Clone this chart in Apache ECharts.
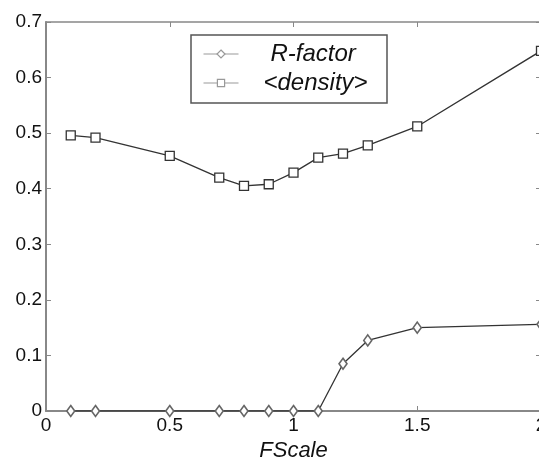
<!DOCTYPE html>
<html>
<head>
<meta charset="utf-8">
<script src="https://cdn.jsdelivr.net/npm/echarts@6/dist/echarts.min.js"></script>
<style>
html,body{margin:0;padding:0;background:#fff;}
#c{width:539px;height:459px;}
</style>
</head>
<body>
<div id="c"></div>
<script>
const fscale = [0.1, 0.2, 0.5, 0.7, 0.8, 0.9, 1.0, 1.1, 1.2, 1.3, 1.5, 2.0];
const rFactor = [0, 0, 0, 0, 0, 0, 0, 0, 0.085, 0.127, 0.150, 0.156];
const density = [0.496, 0.492, 0.459, 0.420, 0.405, 0.408, 0.429, 0.456, 0.463, 0.478, 0.512, 0.648];
const seriesNames = ['R-factor', '<density>'];
const xTitle = 'FScale';

const chart = echarts.init(document.getElementById('c'), null, {renderer: 'canvas'});
const font = '"Liberation Sans", Arial, sans-serif';
const fmt = v => String(+v.toFixed(1));

function axisBase(w) {
  return {
    type: 'value',
    axisLine: {show: true, onZero: false, lineStyle: {color: '#888', width: w}},
    axisTick: {show: true, inside: true, length: 5, lineStyle: {color: '#888', width: 1}},
    splitLine: {show: false}
  };
}

chart.setOption({
  animation: false,
  backgroundColor: '#fff',
  grid: {left: 46, top: 22, width: 495, bottom: 48, containLabel: false, outerBoundsMode: 'none'},
  xAxis: [
    Object.assign(axisBase(2), {
      min: 0, max: 2, interval: 0.5, position: 'bottom',
      name: xTitle, nameLocation: 'middle', nameGap: 25,
      nameTextStyle: {fontFamily: font, fontSize: 22, fontStyle: 'italic', color: '#111'},
      axisLabel: {margin: 5, fontFamily: font, fontSize: 19, color: '#111', formatter: fmt, showMaxLabel: true}
    }),
    Object.assign(axisBase(1.5), {
      min: 0, max: 2, interval: 0.5, position: 'top',
      axisLabel: {show: false}
    })
  ],
  yAxis: [
    Object.assign(axisBase(2), {
      min: 0, max: 0.7, interval: 0.1, position: 'left',
      axisLabel: {margin: 4, fontFamily: font, fontSize: 19, color: '#111', formatter: fmt}
    }),
    Object.assign(axisBase(1.5), {
      min: 0, max: 0.7, interval: 0.1, position: 'right',
      axisLabel: {show: false}
    })
  ],
  legend: [
    {
      data: [seriesNames[0]], left: 203, top: 42, itemWidth: 35, itemHeight: 10,
      selectedMode: false, padding: 0,
      lineStyle: {color: '#999', width: 1},
      itemStyle: {color: '#fff', borderColor: '#999', borderWidth: 1.2},
      textStyle: {fontFamily: font, fontSize: 24, fontStyle: 'italic', color: '#111', padding: [0, 0, 0, 27], lineHeight: 24}
    },
    {
      data: [seriesNames[1]], left: 203, top: 71, itemWidth: 35, itemHeight: 9,
      selectedMode: false, padding: 0,
      lineStyle: {color: '#999', width: 1},
      itemStyle: {color: '#fff', borderColor: '#999', borderWidth: 1.2},
      textStyle: {fontFamily: font, fontSize: 24, fontStyle: 'italic', color: '#111', padding: [0, 0, 0, 20], lineHeight: 24}
    }
  ],
  graphic: [{
    type: 'rect', z: 3,
    shape: {x: 191, y: 35, width: 196, height: 68},
    style: {fill: '#fff', stroke: '#555', lineWidth: 1.5}
  }],
  series: [
    {
      name: seriesNames[0], type: 'line', xAxisIndex: 0, yAxisIndex: 0,
      data: fscale.map((x, i) => [x, rFactor[i]]),
      symbol: 'diamond', symbolSize: [8, 11], showAllSymbol: true,
      lineStyle: {color: '#333', width: 1.3},
      itemStyle: {color: '#fff', borderColor: '#666', borderWidth: 1.6},
      emphasis: {disabled: true}, z: 5
    },
    {
      name: seriesNames[1], type: 'line', xAxisIndex: 0, yAxisIndex: 0,
      data: fscale.map((x, i) => [x, density[i]]),
      symbol: 'rect', symbolSize: 9, showAllSymbol: true,
      lineStyle: {color: '#333', width: 1.3},
      itemStyle: {color: '#fff', borderColor: '#333', borderWidth: 1.3},
      emphasis: {disabled: true}, z: 5
    }
  ]
});
</script>
</body>
</html>
